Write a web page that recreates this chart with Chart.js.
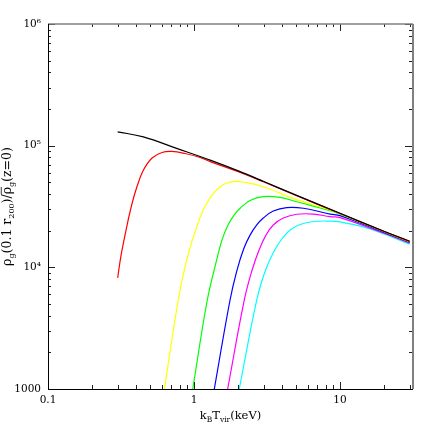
<!DOCTYPE html>
<html>
<head>
<meta charset="utf-8">
<script src="https://cdn.jsdelivr.net/npm/chart.js@4.4.1/dist/chart.umd.min.js"></script>
<style>
html, body { margin: 0; padding: 0; background: #fff; }
#wrap { width: 436px; height: 436px; }
</style>
</head>
<body>
<div id="wrap"><canvas id="chart" width="436" height="436"></canvas></div>
<script>
// axis ticks
const xMajor = [0.1, 1, 10];
const xLabels = ['0.1', '1', '10'];
const yMajor = [1e3, 1e4, 1e5, 1e6];
const yLabels = ['1000', '10\u2074', '10\u2075', '10\u2076'];

// curves: kT (keV) vs density ratio
const tBlack = [0.3, 0.45, 0.76, 1.29, 2.01, 2.98, 5.05, 10, 20, 30];
const vBlack = [1.30e5, 1.18e5, 9.5e4, 7.6e4, 6.2e4, 5.1e4, 3.9e4, 2.78e4, 1.98e4, 1.64e4];

const tRed = [0.3, 0.316, 0.339, 0.367, 0.40, 0.447, 0.516, 0.604, 0.707, 0.867, 1.10, 1.29, 2.01, 2.98, 5.05, 10, 20, 30];
const vRed = [8.2e3, 1.24e4, 1.91e4, 2.96e4, 4.32e4, 6.19e4, 7.92e4, 8.79e4, 8.96e4, 8.62e4, 8.0e4, 7.4e4, 6.1e4, 5.05e4, 3.88e4, 2.77e4, 1.97e4, 1.63e4];

const tYellow = [0.627, 0.78, 0.891, 1.044, 1.222, 1.507, 1.86, 2.3, 2.98, 5.05, 8.55, 10, 20, 30];
const vYellow = [1000, 5.39e3, 1.15e4, 2.16e4, 3.36e4, 4.6e4, 5.06e4, 4.96e4, 4.6e4, 3.6e4, 2.96e4, 2.76e4, 1.97e4, 1.63e4];

const tGreen = [0.98, 1.233, 1.43, 1.555, 1.71, 1.88, 2.07, 2.42, 2.98, 3.88, 5.05, 8.55, 10, 20, 30];
const vGreen = [1000, 5.39e3, 1.15e4, 1.68e4, 2.23e4, 2.69e4, 3.06e4, 3.54e4, 3.81e4, 3.76e4, 3.46e4, 2.92e4, 2.74e4, 1.96e4, 1.62e4];

const tBlue = [1.377, 1.765, 1.97, 2.20, 2.42, 2.69, 2.98, 3.49, 4.31, 5.61, 8.55, 10, 20, 30];
const vBlue = [1000, 5.39e3, 9.5e3, 1.44e4, 1.84e4, 2.23e4, 2.54e4, 2.90e4, 3.10e4, 3.06e4, 2.74e4, 2.66e4, 1.94e4, 1.60e4];

const tMagenta = [1.70, 2.21, 2.50, 2.79, 3.11, 3.49, 4.09, 5.05, 6.56, 8.55, 10, 20, 30];
const vMagenta = [1000, 5.39e3, 9.5e3, 1.39e4, 1.84e4, 2.23e4, 2.54e4, 2.73e4, 2.74e4, 2.61e4, 2.56e4, 1.91e4, 1.58e4];

const tCyan = [2.04, 2.69, 3.06, 3.48, 3.99, 4.55, 5.32, 6.56, 8.55, 10, 15, 20, 30];
const vCyan = [1000, 5.39e3, 9.2e3, 1.31e4, 1.71e4, 2.03e4, 2.25e4, 2.38e4, 2.40e4, 2.36e4, 2.12e4, 1.88e4, 1.55e4];

const X_MIN = 0.1, X_MAX = 31.6, Y_MIN = 1000, Y_MAX = 1e6;
const FONT = '"DejaVu Serif", serif';

function allTicks(majors, min, max) {
    const out = [];
    majors.forEach(m => {
        for (let k = 1; k <= 9; k++) {
            const v = k * m;
            if (v >= min * 0.999 && v <= max * 1.001) out.push(v);
        }
    });
    return out;
}
const xTicks = allTicks(xMajor, X_MIN, X_MAX);
const yTicks = allTicks(yMajor, Y_MIN, Y_MAX);

function isMajor(majors, v) {
    return majors.some(m => Math.abs(m - v) / m < 1e-6);
}
function labelFor(majors, labels, v) {
    const i = majors.findIndex(m => Math.abs(m - v) / m < 1e-6);
    return i >= 0 ? labels[i] : '';
}

function series(ts, vs, color) {
    return {
        data: ts.map((t, i) => ({ x: t, y: vs[i] })),
        borderColor: color,
        borderWidth: 1.2,
        pointRadius: 0,
        showLine: true,
        fill: false,
        tension: 0.4
    };
}

function drawRich(ctx, parts, x, y, size, subSize) {
    let w = 0;
    parts.forEach(p => {
        ctx.font = (p.sub ? subSize : size) + 'px ' + FONT;
        p.w = ctx.measureText(p.t).width;
        w += p.w;
    });
    let cx = x - w / 2;
    ctx.textAlign = 'left';
    ctx.textBaseline = 'alphabetic';
    parts.forEach(p => {
        ctx.font = (p.sub ? subSize : size) + 'px ' + FONT;
        ctx.fillText(p.t, cx, y + (p.sub ? 3 : 0));
        if (p.bar) {
            ctx.beginPath();
            ctx.lineWidth = 0.8;
            ctx.moveTo(cx, y - size * 0.78);
            ctx.lineTo(cx + p.w, y - size * 0.78);
            ctx.stroke();
        }
        cx += p.w;
    });
}

const framePlugin = {
    id: 'frame',
    afterDraw(chart) {
        const ctx = chart.ctx;
        const a = chart.chartArea;
        const xs = chart.scales.x, ys = chart.scales.y;
        ctx.save();
        // ticks pointing inward
        ctx.strokeStyle = '#222';
        ctx.lineWidth = 1;
        ctx.beginPath();
        xTicks.forEach(v => {
            const px = Math.round(xs.getPixelForValue(v)) + 0.5;
            const big = isMajor(xMajor, v);
            ctx.moveTo(px, a.bottom);
            ctx.lineTo(px, a.bottom - (big ? 7 : 4));
            ctx.moveTo(px, a.top);
            ctx.lineTo(px, a.top + (big ? 7 : 3));
        });
        yTicks.forEach(v => {
            const py = Math.round(ys.getPixelForValue(v)) + 0.5;
            const big = isMajor(yMajor, v);
            ctx.moveTo(a.left, py);
            ctx.lineTo(a.left + (big ? 7 : 3), py);
            ctx.moveTo(a.right, py);
            ctx.lineTo(a.right - (big ? 8 : 4), py);
        });
        ctx.stroke();

        // frame
        ctx.strokeStyle = '#808080';
        ctx.lineWidth = 1.5;
        ctx.beginPath();
        ctx.moveTo(a.left, a.top);
        ctx.lineTo(a.right, a.top);
        ctx.stroke();
        ctx.lineWidth = 2;
        ctx.beginPath();
        ctx.moveTo(a.right, a.top);
        ctx.lineTo(a.right, a.bottom);
        ctx.stroke();
        ctx.strokeStyle = '#000';
        ctx.lineWidth = 1;
        ctx.beginPath();
        ctx.moveTo(Math.round(a.left) + 0.5, a.top);
        ctx.lineTo(Math.round(a.left) + 0.5, a.bottom);
        ctx.moveTo(a.left, Math.round(a.bottom) + 0.5);
        ctx.lineTo(a.right, Math.round(a.bottom) + 0.5);
        ctx.stroke();

        // axis titles
        ctx.fillStyle = '#000';
        ctx.strokeStyle = '#000';
        drawRich(ctx, [
            { t: 'k' }, { t: 'B', sub: true }, { t: 'T' }, { t: 'vir', sub: true }, { t: '(keV)' }
        ], (a.left + a.right) / 2, 419, 11.5, 7.5);

        ctx.translate(11, (a.top + a.bottom) / 2);
        ctx.rotate(-Math.PI / 2);
        drawRich(ctx, [
            { t: '\u03c1' }, { t: 'g', sub: true }, { t: '(0.1 r' }, { t: '200', sub: true },
            { t: ')/' }, { t: '\u03c1', bar: true }, { t: 'g', sub: true }, { t: '(z=0)' }
        ], 0, 0, 12.5, 8);
        ctx.restore();
    }
};

new Chart(document.getElementById('chart'), {
    type: 'scatter',
    data: {
        datasets: [
            series(tBlack, vBlack, '#000000'),
            series(tRed, vRed, '#ff0000'),
            series(tYellow, vYellow, '#ffff00'),
            series(tGreen, vGreen, '#00ff00'),
            series(tBlue, vBlue, '#0000ff'),
            series(tMagenta, vMagenta, '#ff00ff'),
            series(tCyan, vCyan, '#00ffff')
        ]
    },
    options: {
        responsive: false,
        animation: false,
        layout: { padding: { top: 24, right: 23, left: 0, bottom: 0 } },
        plugins: { legend: { display: false }, tooltip: { enabled: false } },
        scales: {
            x: {
                type: 'logarithmic',
                min: X_MIN,
                max: X_MAX,
                afterBuildTicks: s => { s.ticks = xTicks.map(v => ({ value: v })); },
                afterFit: s => { s.height = 47; },
                grid: { display: false, drawTicks: false },
                border: { display: false },
                ticks: {
                    autoSkip: false,
                    maxRotation: 0,
                    padding: 5,
                    color: '#000',
                    font: { family: FONT, size: 10.5 },
                    callback: v => labelFor(xMajor, xLabels, v)
                }
            },
            y: {
                type: 'logarithmic',
                min: Y_MIN,
                max: Y_MAX,
                afterBuildTicks: s => { s.ticks = yTicks.map(v => ({ value: v })); },
                afterFit: s => { s.width = 48; },
                grid: { display: false, drawTicks: false },
                border: { display: false },
                ticks: {
                    autoSkip: false,
                    padding: 7,
                    color: '#000',
                    font: { family: FONT, size: 10.5 },
                    callback: v => labelFor(yMajor, yLabels, v)
                }
            }
        }
    },
    plugins: [framePlugin]
});
</script>
</body>
</html>
